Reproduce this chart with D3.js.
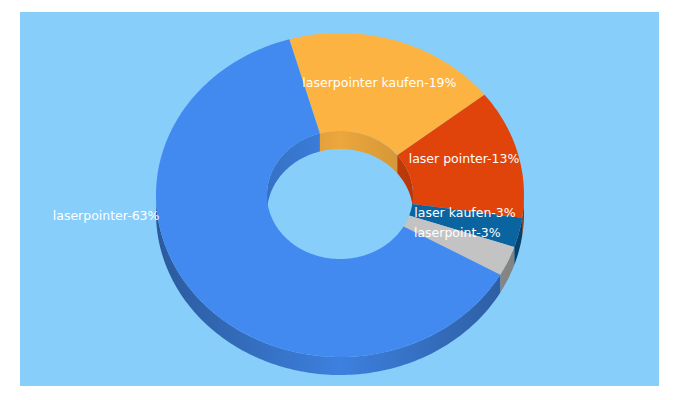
<!DOCTYPE html>
<html><head><meta charset="utf-8">
<script src="https://cdn.jsdelivr.net/npm/d3@7/dist/d3.min.js"></script>
<style>body{margin:0;background:#fff}</style></head>
<body><svg id="c" width="680" height="400"></svg>
<script>
const categories = ["laserpointer kaufen","laser pointer","laser kaufen","laserpoint","laserpointer"];
const values = [19,13,3,3,63];
const colors = ["#FDB342","#E0440A","#0A64A0","#C3C3C3","#428AF0"];

const svg = d3.select("#c");
svg.append("rect").attr("x",20).attr("y",12).attr("width",639).attr("height",374).attr("fill","#87CEFA");
const cx=340, cy=195, rx=184, ry=162, irx=73, iry=64, depth=18;
const start = -16*Math.PI/180;
const pie = d3.pie().sort(null).value(d=>d).startAngle(start).endAngle(start+2*Math.PI);
const arcs = pie(values);
const P=(t,a,b,dy=0)=>[cx+a*Math.sin(t), cy-b*Math.cos(t)+dy];
function samp(t0,t1){const n=Math.max(2,Math.ceil(Math.abs(t1-t0)/0.02));return d3.range(n+1).map(i=>t0+(t1-t0)*i/n);}
const defs=svg.append("defs");
colors.forEach((c,i)=>{
  const g=defs.append("linearGradient").attr("id","g"+i).attr("gradientUnits","userSpaceOnUse")
   .attr("x1",cx-rx).attr("x2",cx+rx).attr("y1",0).attr("y2",0);
  const d=d3.color(c).darker(1.2), m=d3.color(c).darker(0.2);
  g.append("stop").attr("offset","0").attr("stop-color",d);
  g.append("stop").attr("offset","0.5").attr("stop-color",m);
  g.append("stop").attr("offset","1").attr("stop-color",d);
});
const line=d3.line();
// outer walls (front half: t in [PI/2, 3PI/2] mod 2PI)
function clipRange(a0,a1,lo,hi){const out=[];for(let k=-1;k<=1;k++){const L=lo+2*Math.PI*k,H=hi+2*Math.PI*k;const s=Math.max(a0,L),e=Math.min(a1,H);if(e>s)out.push([s,e]);}return out;}
arcs.forEach((a,i)=>{
  clipRange(a.startAngle,a.endAngle,Math.PI/2,3*Math.PI/2).forEach(([s,e])=>{
    const ts=samp(s,e);
    const pts=ts.map(t=>P(t,rx,ry)).concat(ts.slice().reverse().map(t=>P(t,rx,ry,depth)));
    svg.append("path").attr("d",line(pts)+"Z").attr("fill",`url(#g${i})`);
  });
});
// inner walls (back half)
arcs.forEach((a,i)=>{
  clipRange(a.startAngle,a.endAngle,-Math.PI/2,Math.PI/2).forEach(([s,e])=>{
    const ts=samp(s,e);
    const pts=ts.map(t=>P(t,irx,iry)).concat(ts.slice().reverse().map(t=>P(t,irx,iry,depth)));
    svg.append("path").attr("d",line(pts)+"Z").attr("fill",`url(#g${i})`);
  });
});
// top faces
arcs.forEach((a,i)=>{
  const ts=samp(a.startAngle,a.endAngle);
  const pts=ts.map(t=>P(t,rx,ry)).concat(ts.slice().reverse().map(t=>P(t,irx,iry)));
  svg.append("path").attr("d",line(pts)+"Z").attr("fill",colors[i]);
});
// labels
const labelShift=[[0,-4],[0,-6],[0,-8],[0,-8],[-133,-48]];
arcs.forEach((a,i)=>{
  const m=(a.startAngle+a.endAngle)/2;
  const [x,y]=P(m,(rx+irx)/2,(ry+iry)/2);
  svg.append("text").attr("x",x+labelShift[i][0]).attr("y",y+labelShift[i][1])
    .attr("text-anchor","middle").attr("dominant-baseline","middle")
    .attr("fill","#fff").attr("font-family","DejaVu Sans, sans-serif").attr("font-size",12.5)
    .text(categories[i]+"-"+values[i]+"%");
});
</script></body></html>
